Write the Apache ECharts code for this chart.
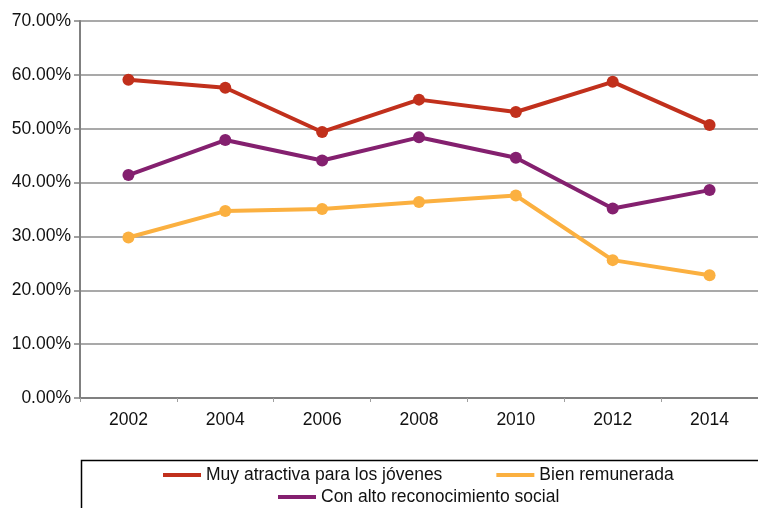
<!DOCTYPE html>
<html>
<head>
<meta charset="utf-8">
<script src="https://cdn.jsdelivr.net/npm/echarts@6/dist/echarts.min.js"></script>
<style>
  html, body { margin: 0; padding: 0; background: #fff; }
  #chart { width: 758px; height: 508px; }
</style>
</head>
<body>
<div id="chart"></div>
<script>
// años
var years = ['2002', '2004', '2006', '2008', '2010', '2012', '2014']
// porcentajes
var muyAtractiva = [59.1, 57.6, 49.4, 55.4, 53.1, 58.7, 50.7]
var bienRemunerada = [29.8, 34.7, 35.1, 36.4, 37.6, 25.6, 22.8]
var altoReconocimiento = [41.4, 47.9, 44.1, 48.4, 44.6, 35.2, 38.6]
var seriesNames = ['Muy atractiva para los jóvenes', 'Bien remunerada', 'Con alto reconocimiento social']
var colors = ['#C1301C', '#FBB040', '#84206F']

var font = 'Liberation Sans, Arial, sans-serif'
var myChart = echarts.init(document.getElementById('chart'))

function lineSeries(name, data, color) {
  return {
    name: name,
    type: 'line',
    data: data,
    symbol: 'circle',
    symbolSize: 12,
    lineStyle: { width: 4, color: color },
    itemStyle: { color: color },
    animation: false
  }
}

var option = {
  animation: false,
  color: colors,
  grid: { left: 80, top: 21, right: -5, bottom: 110 },
  xAxis: {
    type: 'category',
    data: years,
    boundaryGap: true,
    axisLine: { lineStyle: { color: '#808080', width: 2 } },
    axisTick: { show: true, length: 4, lineStyle: { color: '#a0a0a0', width: 1 } },
    axisLabel: { color: '#111', fontSize: 17.5, fontFamily: font, margin: 13 }
  },
  yAxis: {
    type: 'value',
    min: 0,
    max: 70,
    interval: 10,
    axisLine: { show: true, lineStyle: { color: '#808080', width: 2 } },
    axisTick: { show: true, length: 6, lineStyle: { color: '#808080', width: 1.5 } },
    axisLabel: {
      color: '#111', fontSize: 17.5, fontFamily: font, margin: 9,
      formatter: function (v) { return v.toFixed(2) + '%' }
    },
    splitLine: { lineStyle: { color: '#8c8c8c', width: 1.5 } }
  },
  legend: [{
    data: [seriesNames[0], seriesNames[1]],
    left: 158,
    top: 461,
    itemWidth: 38,
    itemHeight: 4,
    itemGap: 54,
    icon: 'rect',
    textStyle: { color: '#111', fontSize: 17.5, fontFamily: font }
  }, {
    data: [seriesNames[2]],
    left: 273,
    top: 483,
    itemWidth: 38,
    itemHeight: 4,
    icon: 'rect',
    textStyle: { color: '#111', fontSize: 17.5, fontFamily: font }
  }],
  graphic: [{
    type: 'rect',
    left: 79,
    top: 458,
    shape: { width: 720, height: 80 },
    style: { fill: 'none', stroke: '#000', lineWidth: 1.5 },
    silent: true
  }],
  series: [
    lineSeries(seriesNames[0], muyAtractiva, colors[0]),
    lineSeries(seriesNames[1], bienRemunerada, colors[1]),
    lineSeries(seriesNames[2], altoReconocimiento, colors[2])
  ]
}
myChart.setOption(option)
</script>
</body>
</html>
